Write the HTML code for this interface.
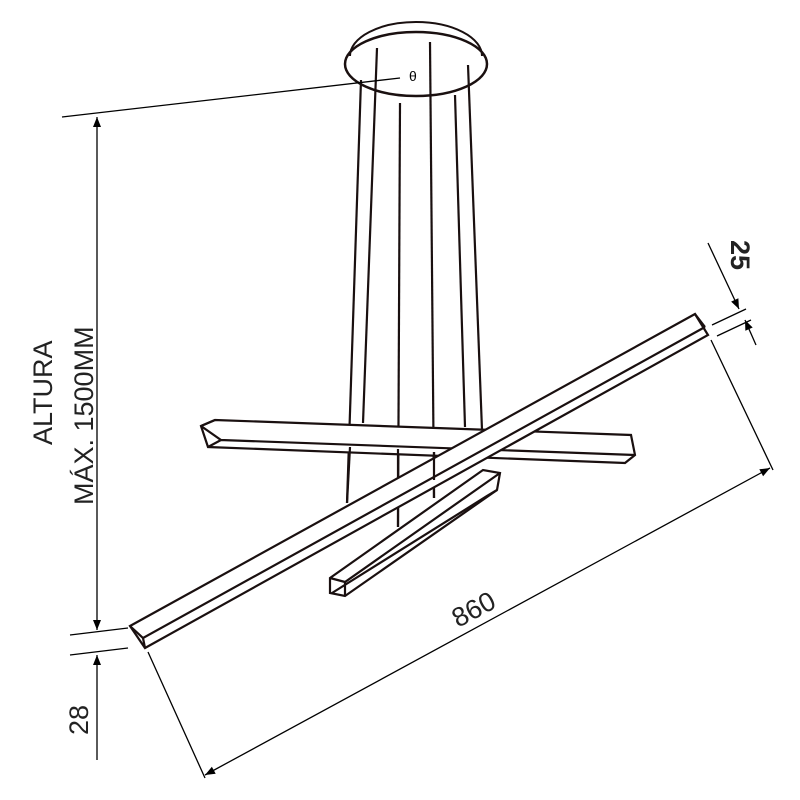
<!DOCTYPE html>
<html><head><style>body{margin:0;background:#fff}svg{display:block}</style></head><body>
<svg width="800" height="800" viewBox="0 0 800 800" xmlns="http://www.w3.org/2000/svg" font-family="Liberation Sans, sans-serif">
<defs><marker id="a" viewBox="0 0 10 10" refX="10" refY="5" markerWidth="12" markerHeight="10" orient="auto-start-reverse" markerUnits="userSpaceOnUse"><path d="M0,1 L10,5 L0,9z" fill="#000"/></marker></defs>
<g stroke="#1a1010" fill="none" stroke-width="2.2">
<path d="M350,56 A66,34 0 0 1 482,56" stroke-width="2"/>
<ellipse cx="416" cy="64" rx="71" ry="32" stroke-width="2.5"/>
<line x1="361" y1="80" x2="347" y2="503"/>
<line x1="377" y1="48" x2="363" y2="423"/>
<line x1="400" y1="103" x2="398" y2="527"/>
<line x1="430" y1="42" x2="434" y2="498"/>
<line x1="455" y1="95" x2="465" y2="427"/>
<line x1="468" y1="65" x2="482" y2="430"/>
<path d="M215,420 L631,435 L635,455 L625,463 L208,447 L201,426 Z" fill="#fff"/>
<path d="M201,426 L215,420 M201,426 L221,440 L635,455 M221,440 L208,447"/>
<line x1="350" y1="447" x2="347" y2="503"/>
<line x1="398" y1="449" x2="398" y2="527"/>
<line x1="434" y1="452" x2="434" y2="498"/>
<path d="M330,578 L483,470 L500,473 L497,490 L345,596 L330,593 Z" fill="#fff"/>
<path d="M330,578 L345,582 L500,473 M345,582 L345,596 M497,490 L487,496 L332,593"/>
<path d="M130,626 L695,314 L708,335 L145,648 Z" fill="#fff"/>
<path d="M130,626 L143,638 L705,327 M695,314 L705,327 M143,638 L145,648" />
<line x1="434" y1="452" x2="434" y2="480"/>
</g>
<g stroke="#000" stroke-width="1.3" fill="none">
<line x1="62" y1="117" x2="400" y2="78"/>
<line x1="70" y1="635" x2="128" y2="628"/>
<line x1="70" y1="655" x2="128" y2="648"/>
<line x1="97" y1="117" x2="97" y2="630" marker-start="url(#a)" marker-end="url(#a)"/>
<line x1="97" y1="655" x2="97" y2="760" marker-start="url(#a)"/>
<line x1="148" y1="652" x2="205" y2="778"/>
<line x1="711" y1="340" x2="773" y2="470"/>
<line x1="205" y1="775" x2="770" y2="468" marker-start="url(#a)" marker-end="url(#a)"/>
<line x1="712" y1="325" x2="746" y2="309"/>
<line x1="717" y1="336" x2="751" y2="320"/>
<line x1="708" y1="243" x2="739" y2="309" marker-end="url(#a)"/>
<line x1="756" y1="345" x2="745" y2="320" marker-end="url(#a)"/>
</g>
<text x="0" y="0" font-size="14" transform="translate(409,81)">θ</text>
<g font-size="27" fill="#222">
<text transform="translate(52,445) rotate(-90)">ALTURA</text>
<text transform="translate(93,505) rotate(-90)">MÁX. 1500MM</text>
<text transform="translate(88,735) rotate(-90)">28</text>
<text transform="translate(458,628) rotate(-28)">860</text>
<text transform="translate(731,240) rotate(90)" font-weight="bold">25</text>
</g>
</svg>
</body></html>
